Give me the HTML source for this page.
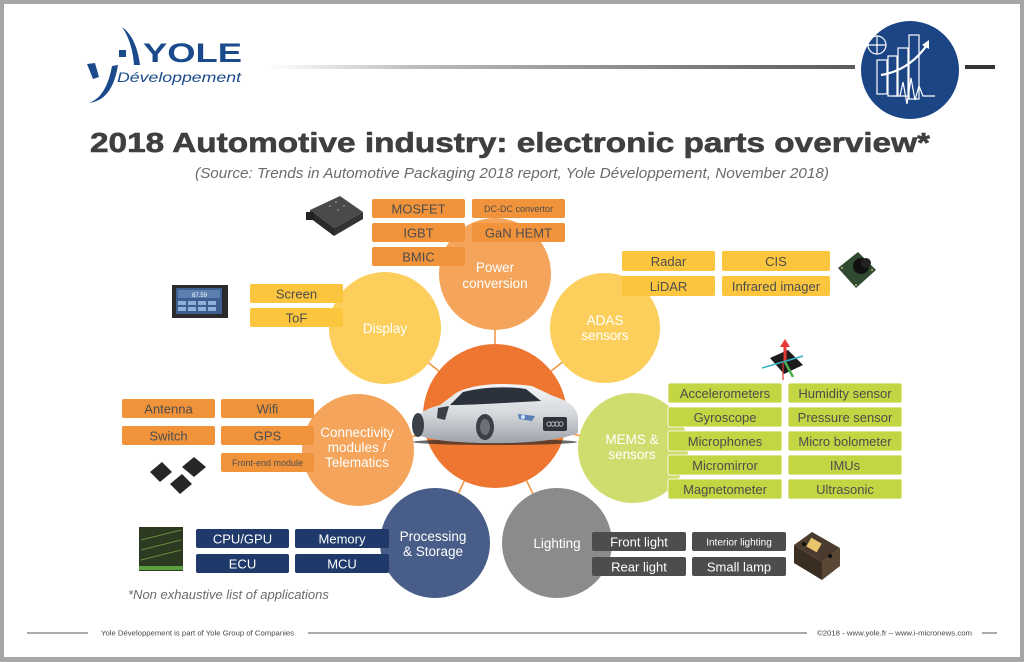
<!DOCTYPE html>
<html>
<head>
<meta charset="utf-8">
<style>
  html,body{margin:0;padding:0;background:#a6a6a6;}
  svg{display:block;}
  text{font-family:"Liberation Sans", sans-serif;}
</style>
</head>
<body>
<svg width="1024" height="662" viewBox="0 0 1024 662" xmlns="http://www.w3.org/2000/svg">
  <defs>
    <linearGradient id="hline" x1="0" x2="1" y1="0" y2="0">
      <stop offset="0" stop-color="#ffffff"/>
      <stop offset="0.25" stop-color="#bdbdbd"/>
      <stop offset="1" stop-color="#5a5a5a"/>
    </linearGradient>
    <linearGradient id="carbody" x1="0" x2="0" y1="0" y2="1">
      <stop offset="0" stop-color="#f4f5f7"/>
      <stop offset="0.5" stop-color="#d5d8dc"/>
      <stop offset="1" stop-color="#9ea3aa"/>
    </linearGradient>
  </defs>

  <!-- frame -->
  <rect x="0" y="0" width="1024" height="662" fill="#a6a6a6"/>
  <rect x="4" y="4" width="1016" height="653" fill="#ffffff"/>

  <!-- logo -->
  <g fill="#1a4a8c">
    <path d="M87,64 L95,63 L99,77 L93,79 Z"/>
    <path d="M89,103 C100,99 108,88 112,66 L118,65 C114,90 104,101 89,103 Z"/>
    <rect x="119" y="50" width="7" height="7"/>
    <path d="M122,27 C132,34 138,48 140,65 L134,65 C133,50 129,37 122,27 Z"/>
  </g>
  <text x="143" y="62" font-size="27" font-weight="bold" fill="#1a4a8c" textLength="99" lengthAdjust="spacingAndGlyphs">YOLE</text>
  <text x="117" y="82" font-size="14" font-style="italic" fill="#1a4a8c" textLength="124" lengthAdjust="spacingAndGlyphs">Développement</text>

  <!-- header line -->
  <rect x="267" y="65" width="588" height="4" fill="url(#hline)"/>
  <rect x="965" y="65" width="30" height="4" fill="#333"/>

  <!-- icon circle -->
  <circle cx="910" cy="70" r="49" fill="#1b4585"/>
  <g stroke="#ffffff" stroke-width="1.2" fill="none">
    <circle cx="877" cy="45" r="9"/>
    <line x1="868" y1="45" x2="886" y2="45"/>
    <line x1="877" y1="36" x2="877" y2="54"/>
    <rect x="877" y="60" width="10" height="34"/>
    <rect x="888" y="56" width="9" height="40"/>
    <rect x="898" y="48" width="10" height="48"/>
    <rect x="909" y="35" width="10" height="64"/>
    <polyline points="893,96 900,96 903,82 907,104 911,78 915,100 919,86 923,96 935,96"/>
  </g>
  <path d="M881,75 C900,72 915,62 927,45" stroke="#ffffff" stroke-width="2.2" fill="none"/>
  <path d="M922,45 L929,40 L929,49 Z" fill="#ffffff"/>

  <!-- title -->
  <text x="90" y="152" font-size="28" font-weight="bold" fill="#3f3f3f" stroke="#3f3f3f" stroke-width="0.6" textLength="840" lengthAdjust="spacingAndGlyphs">2018 Automotive industry: electronic parts overview*</text>
  <text x="195" y="178" font-size="15" font-style="italic" fill="#6b6b6b" textLength="634" lengthAdjust="spacingAndGlyphs">(Source: Trends in Automotive Packaging 2018 report, Yole Développement, November 2018)</text>

  <!-- connector lines -->
  <g stroke="#f0933b" stroke-width="1.5">
    <line x1="495" y1="416" x2="495" y2="274"/>
    <line x1="495" y1="416" x2="385" y2="328"/>
    <line x1="495" y1="416" x2="605" y2="328"/>
    <line x1="495" y1="416" x2="358" y2="450"/>
    <line x1="495" y1="416" x2="633" y2="448"/>
    <line x1="495" y1="416" x2="435" y2="543"/>
    <line x1="495" y1="416" x2="557" y2="543"/>
  </g>

  <!-- satellite circles -->
  <circle cx="495" cy="274" r="56" fill="#f4a55b"/>
  <circle cx="385" cy="328" r="56" fill="#fccf5c"/>
  <circle cx="605" cy="328" r="55" fill="#fccf5c"/>
  <circle cx="358" cy="450" r="56" fill="#f4a55b"/>
  <circle cx="633" cy="448" r="55" fill="#cfdd6e"/>
  <circle cx="435" cy="543" r="55" fill="#485e88"/>
  <circle cx="557" cy="543" r="55" fill="#8b8b8b"/>

  <!-- center circle -->
  <circle cx="495" cy="416" r="72" fill="#ee7631"/>

  <!-- car -->
  <ellipse cx="495" cy="442" rx="82" ry="3" fill="#2a2a2a" opacity="0.7"/>
  <path d="M413,432 C411,419 420,410 440,405 L456,393 C472,384 502,382 532,386 L553,396 C566,400 576,406 578,416 L578,433 C560,441 520,444 480,443 C450,442 424,440 413,432 Z" fill="url(#carbody)"/>
  <path d="M450,405 L463,392 C482,387 506,386 526,389 L541,401 C520,402 472,405 450,405 Z" fill="#2c323b"/>
  <path d="M438,408 L449,406 L445,420 L437,418 Z" fill="#3a3f46"/>
  <ellipse cx="418" cy="425" rx="6" ry="12" fill="#3b4048"/>
  <ellipse cx="485" cy="427" rx="9" ry="13" fill="#3b4048"/>
  <ellipse cx="485" cy="427" rx="5" ry="8" fill="#6b7079"/>
  <rect x="543" y="417" width="24" height="14" rx="2" fill="#30343a"/>
  <g stroke="#c8ccd2" stroke-width="0.8" fill="none">
    <circle cx="549" cy="424" r="2.2"/><circle cx="553" cy="424" r="2.2"/><circle cx="557" cy="424" r="2.2"/><circle cx="561" cy="424" r="2.2"/>
  </g>
  <path d="M518,414 L535,416 L532,421 L519,419 Z" fill="#5a7fb5"/>
  <circle cx="523" cy="417" r="2" fill="#cfe6ff"/>

  <!-- circle labels -->
  <g fill="#ffffff" font-size="13.5" text-anchor="middle">
    <text x="495" y="272">Power</text>
    <text x="495" y="288">conversion</text>
    <text x="385" y="333">Display</text>
    <text x="605" y="325">ADAS</text>
    <text x="605" y="340">sensors</text>
    <text x="357" y="437">Connectivity</text>
    <text x="357" y="452">modules /</text>
    <text x="357" y="467">Telematics</text>
    <text x="632" y="444">MEMS &amp;</text>
    <text x="632" y="459">sensors</text>
    <text x="433" y="541">Processing</text>
    <text x="433" y="556">&amp; Storage</text>
    <text x="557" y="548">Lighting</text>
  </g>

  <!-- power conversion boxes -->
  <g fill="#f0933b">
    <rect x="372" y="199" width="93" height="19" rx="2"/>
    <rect x="472" y="199" width="93" height="19" rx="2"/>
    <rect x="372" y="223" width="93" height="19" rx="2"/>
    <rect x="472" y="223" width="93" height="19" rx="2"/>
    <rect x="372" y="247" width="93" height="19" rx="2"/>
  </g>
  <g fill="#4d4d4d" font-size="13" text-anchor="middle">
    <text x="418.5" y="213.5">MOSFET</text>
    <text x="518.5" y="212" font-size="9">DC-DC convertor</text>
    <text x="418.5" y="237.5">IGBT</text>
    <text x="518.5" y="237.5">GaN HEMT</text>
    <text x="418.5" y="261.5">BMIC</text>
  </g>

  <!-- display boxes -->
  <g fill="#fbc53e">
    <rect x="250" y="284" width="93" height="19" rx="2"/>
    <rect x="250" y="308" width="93" height="19" rx="2"/>
  </g>
  <g fill="#4d4d4d" font-size="13" text-anchor="middle">
    <text x="296.5" y="298.5">Screen</text>
    <text x="296.5" y="322.5">ToF</text>
  </g>

  <!-- ADAS boxes -->
  <g fill="#fbc53e">
    <rect x="622" y="251" width="93" height="20" rx="2"/>
    <rect x="722" y="251" width="108" height="20" rx="2"/>
    <rect x="622" y="276" width="93" height="20" rx="2"/>
    <rect x="722" y="276" width="108" height="20" rx="2"/>
  </g>
  <g fill="#4d4d4d" font-size="13" text-anchor="middle">
    <text x="668.5" y="266">Radar</text>
    <text x="776" y="266">CIS</text>
    <text x="668.5" y="291">LiDAR</text>
    <text x="776" y="291">Infrared imager</text>
  </g>

  <!-- MEMS boxes -->
  <g fill="#c3d542" stroke="#ffffff" stroke-width="0.8">
    <rect x="668" y="383" width="114" height="20" rx="2"/>
    <rect x="788" y="383" width="114" height="20" rx="2"/>
    <rect x="668" y="407" width="114" height="20" rx="2"/>
    <rect x="788" y="407" width="114" height="20" rx="2"/>
    <rect x="668" y="431" width="114" height="20" rx="2"/>
    <rect x="788" y="431" width="114" height="20" rx="2"/>
    <rect x="668" y="455" width="114" height="20" rx="2"/>
    <rect x="788" y="455" width="114" height="20" rx="2"/>
    <rect x="668" y="479" width="114" height="20" rx="2"/>
    <rect x="788" y="479" width="114" height="20" rx="2"/>
  </g>
  <g fill="#4d4d4d" font-size="13" text-anchor="middle">
    <text x="725" y="398">Accelerometers</text>
    <text x="845" y="398">Humidity sensor</text>
    <text x="725" y="422">Gyroscope</text>
    <text x="845" y="422">Pressure sensor</text>
    <text x="725" y="446">Microphones</text>
    <text x="845" y="446">Micro bolometer</text>
    <text x="725" y="470">Micromirror</text>
    <text x="845" y="470">IMUs</text>
    <text x="725" y="494">Magnetometer</text>
    <text x="845" y="494">Ultrasonic</text>
  </g>

  <!-- connectivity boxes -->
  <g fill="#f0933b">
    <rect x="122" y="399" width="93" height="19" rx="2"/>
    <rect x="221" y="399" width="93" height="19" rx="2"/>
    <rect x="122" y="426" width="93" height="19" rx="2"/>
    <rect x="221" y="426" width="93" height="19" rx="2"/>
    <rect x="221" y="453" width="93" height="19" rx="2"/>
  </g>
  <g fill="#4d4d4d" font-size="13" text-anchor="middle">
    <text x="168.5" y="413.5">Antenna</text>
    <text x="267.5" y="413.5">Wifi</text>
    <text x="168.5" y="440.5">Switch</text>
    <text x="267.5" y="440.5">GPS</text>
    <text x="267.5" y="466" font-size="9">Front-end module</text>
  </g>

  <!-- processing boxes -->
  <g fill="#1f3a6a">
    <rect x="196" y="529" width="93" height="19" rx="2"/>
    <rect x="295" y="529" width="94" height="19" rx="2"/>
    <rect x="196" y="554" width="93" height="19" rx="2"/>
    <rect x="295" y="554" width="94" height="19" rx="2"/>
  </g>
  <g fill="#ffffff" font-size="13" text-anchor="middle">
    <text x="242.5" y="543.5">CPU/GPU</text>
    <text x="342" y="543.5">Memory</text>
    <text x="242.5" y="568.5">ECU</text>
    <text x="342" y="568.5">MCU</text>
  </g>

  <!-- lighting boxes -->
  <g fill="#4d4d4d">
    <rect x="592" y="532" width="94" height="19" rx="2"/>
    <rect x="692" y="532" width="94" height="19" rx="2"/>
    <rect x="592" y="557" width="94" height="19" rx="2"/>
    <rect x="692" y="557" width="94" height="19" rx="2"/>
  </g>
  <g fill="#ffffff" font-size="13" text-anchor="middle">
    <text x="639" y="546.5">Front light</text>
    <text x="739" y="545.5" font-size="10">Interior lighting</text>
    <text x="639" y="571.5">Rear light</text>
    <text x="739" y="571.5">Small lamp</text>
  </g>

  <!-- note -->
  <text x="128" y="599" font-size="13" font-style="italic" fill="#6b6b6b">*Non exhaustive list of applications</text>

  <!-- thumbnails -->
  <g>
    <path d="M310,210 L340,196 L363,212 L334,228 Z" fill="#4a4a4a"/>
    <path d="M310,210 L334,228 L334,236 L310,218 Z" fill="#2a2a2a"/>
    <path d="M334,228 L363,212 L363,219 L334,236 Z" fill="#333"/>
    <rect x="306" y="212" width="8" height="8" fill="#222"/>
    <g fill="#8a8a8a"><circle cx="330" cy="206" r="1"/><circle cx="338" cy="210" r="1"/><circle cx="344" cy="206" r="1"/><circle cx="336" cy="202" r="1"/></g>
  </g>
  <g>
    <rect x="172" y="285" width="56" height="33" fill="#2b2b2b"/>
    <rect x="176" y="288" width="46" height="26" fill="#3d5f8f"/>
    <rect x="178" y="290" width="42" height="8" fill="#5a7fb0"/>
    <text x="192" y="297" font-size="6" fill="#ffffff">87.59</text>
    <g fill="#8fb0d8"><rect x="178" y="301" width="8" height="4"/><rect x="188" y="301" width="8" height="4"/><rect x="198" y="301" width="8" height="4"/><rect x="208" y="301" width="8" height="4"/>
    <rect x="178" y="307" width="8" height="4"/><rect x="188" y="307" width="8" height="4"/><rect x="198" y="307" width="8" height="4"/><rect x="208" y="307" width="8" height="4"/></g>
  </g>
  <g>
    <path d="M838,268 L858,252 L876,270 L856,288 Z" fill="#2f4a30"/>
    <circle cx="861" cy="266" r="8" fill="#111"/>
    <circle cx="866" cy="263" r="5" fill="#222"/>
    <g fill="#c8b46a"><circle cx="842" cy="268" r="1"/><circle cx="856" cy="285" r="1"/><circle cx="872" cy="270" r="1"/></g>
  </g>
  <g>
    <path d="M770,358 L788,350 L803,365 L784,374 Z" fill="#1c1c1c"/>
    <line x1="785" y1="362" x2="785" y2="345" stroke="#e53935" stroke-width="3"/>
    <path d="M780,347 L785,339 L790,347 Z" fill="#e53935"/>
    <line x1="762" y1="368" x2="803" y2="356" stroke="#33b5c8" stroke-width="1.5"/>
    <line x1="785" y1="362" x2="793" y2="377" stroke="#4caf50" stroke-width="2.5"/>
    <line x1="783" y1="362" x2="783" y2="380" stroke="#e53935" stroke-width="1.2"/>
  </g>
  <g fill="#262626">
    <path d="M150,472 L162,462 L172,472 L160,482 Z"/>
    <path d="M182,467 L194,457 L206,467 L194,477 Z"/>
    <path d="M170,484 L182,474 L192,484 L180,494 Z"/>
  </g>
  <g>
    <rect x="139" y="527" width="44" height="44" fill="#2c3a22"/>
    <g stroke="#6b8a3c" stroke-width="1">
      <line x1="141" y1="540" x2="181" y2="530"/>
      <line x1="141" y1="550" x2="181" y2="540"/>
      <line x1="141" y1="560" x2="181" y2="550"/>
    </g>
    <rect x="139" y="566" width="44" height="4" fill="#5aa040"/>
  </g>
  <g>
    <path d="M794,545 L812,532 L840,548 L822,562 Z" fill="#4a3b2e"/>
    <path d="M794,545 L822,562 L822,580 L794,563 Z" fill="#3a2d22"/>
    <path d="M822,562 L840,548 L840,566 L822,580 Z" fill="#5a4634"/>
    <rect x="808" y="540" width="12" height="10" fill="#e8c46a" transform="rotate(30 814 545)"/>
    <circle cx="804" cy="544" r="2" fill="#111"/>
    <circle cx="830" cy="556" r="2" fill="#111"/>
  </g>

  <!-- footer -->
  <g stroke="#555" stroke-width="1">
    <line x1="27" y1="633" x2="88" y2="633"/>
    <line x1="308" y1="633" x2="807" y2="633"/>
    <line x1="982" y1="633" x2="997" y2="633"/>
  </g>
  <text x="101" y="635.5" font-size="7.5" fill="#444" textLength="193" lengthAdjust="spacingAndGlyphs">Yole Développement is part of Yole Group of Companies</text>
  <text x="817" y="635.5" font-size="7.5" fill="#444" textLength="155" lengthAdjust="spacingAndGlyphs">©2018 - www.yole.fr – www.i-micronews.com</text>
</svg>
</body>
</html>
